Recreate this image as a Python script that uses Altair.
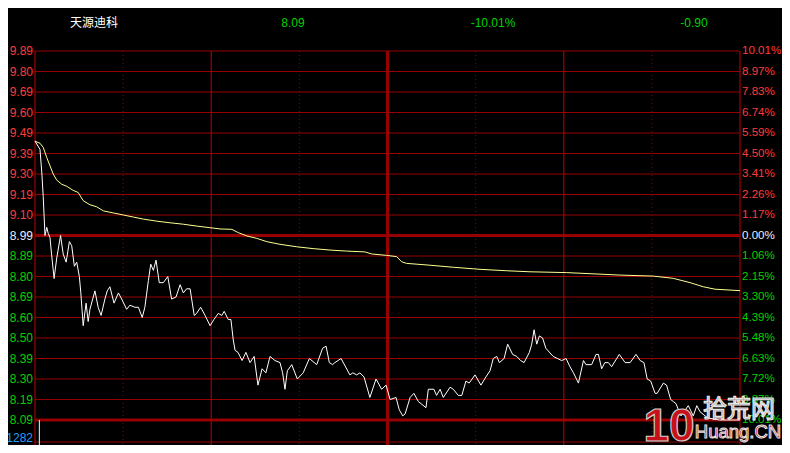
import altair as alt
import pandas as pd

# ---------------- data ----------------
stock_name = "天源迪科"
last_price = "8.09"
change_pct = "-10.01%"
change_abs = "-0.90"

prev_close = 8.99
limit_up = 9.89
limit_down = 8.09

price_labels = ["9.89", "9.80", "9.69", "9.60", "9.49", "9.39", "9.30", "9.19", "9.10", "8.99",
                "8.89", "8.80", "8.69", "8.60", "8.50", "8.39", "8.30", "8.19", "8.09"]
pct_labels = ["10.01%", "8.97%", "7.83%", "6.74%", "5.59%", "4.50%", "3.41%", "2.26%", "1.17%", "0.00%",
              "1.06%", "2.15%", "3.30%", "4.39%", "5.48%", "6.63%", "7.72%", "8.87%", "10.01%"]

# minute of the session (0..240) and last price
minutes = [
    0, 1.7, 2.3, 2.8, 3.4, 4.0, 4.5, 5.1, 5.7, 6.5,
    7.4, 8.7, 9.6, 10.6, 11.7, 12.5, 13.4, 14.2, 15.1, 15.6,
    16.4, 17.4, 18.1, 18.7, 20.4, 21.5, 22.5, 23.8, 24.6, 25.5,
    26.9, 28.4, 29.5, 31.2, 32.3, 34.0, 35.2, 36.5, 37.4, 38.6,
    39.4, 40.3, 41.2, 42.3, 43.7, 45.2, 46.5, 48.0, 49.4, 50.5,
    51.6, 52.8, 54.2, 55.0, 56.4, 57.9, 59.6, 60.9, 62.4, 63.6,
    64.4, 65.8, 66.7, 67.5, 68.1, 69.1, 70.5, 71.8, 73.2, 74.6,
    75.9, 77.3, 78.6, 80.0, 81.7, 83.4, 84.3, 85.1, 85.9, 87.4,
    89.3, 91.3, 93.4, 95.9, 97.9, 99.1, 100.2, 101.3, 102.1, 104.2,
    107.2, 108.2, 109.5, 110.6, 112.0, 114.0, 116.1, 118.0, 119.5, 120.9,
    122.9, 124.0, 125.2, 126.0, 127.7, 129.0, 130.5, 133.1, 133.9, 135.8,
    136.7, 137.9, 139.0, 141.3, 142.4, 144.1, 145.3, 146.7, 147.8, 149.8,
    151.8, 153.5, 154.9, 156.0, 157.2, 158.1, 159.7, 160.9, 162.6, 164.0,
    165.3, 166.5, 168.3, 169.1, 169.9, 170.8, 171.7, 172.8, 173.9, 176.4,
    179.3, 180.8, 182.1, 183.3, 185.0, 186.7, 187.6, 189.5, 191.0, 191.8,
    192.9, 194.0, 195.2, 196.3, 198.9, 200.9, 202.6, 204.6, 206.0, 207.3,
    208.4, 209.6, 211.1, 211.8, 213.9, 215.0, 216.4, 217.3, 218.2, 219.9,
    222.4, 224.1, 225.3, 226.4, 229.0, 233.0, 240.0,
]
prices = [
    9.45, 9.41, 9.30, 9.18, 8.99, 9.03, 9.00, 8.98, 8.89, 8.78,
    8.88, 8.99, 8.90, 8.86, 8.96, 8.94, 8.84, 8.86, 8.79, 8.71,
    8.55, 8.66, 8.57, 8.63, 8.72, 8.64, 8.60, 8.68, 8.72, 8.74,
    8.66, 8.71, 8.68, 8.63, 8.65, 8.64, 8.64, 8.59, 8.64, 8.77,
    8.85, 8.82, 8.87, 8.76, 8.76, 8.79, 8.68, 8.69, 8.75, 8.71,
    8.73, 8.73, 8.60, 8.61, 8.64, 8.60, 8.55, 8.58, 8.61, 8.60,
    8.62, 8.58, 8.58, 8.48, 8.43, 8.42, 8.38, 8.42, 8.37, 8.40,
    8.26, 8.34, 8.32, 8.40, 8.38, 8.37, 8.32, 8.24, 8.33, 8.36,
    8.29, 8.32, 8.39, 8.36, 8.44, 8.45, 8.37, 8.36, 8.37, 8.39,
    8.31, 8.32, 8.31, 8.32, 8.30, 8.20, 8.29, 8.24, 8.26, 8.19,
    8.20, 8.14, 8.11, 8.12, 8.20, 8.22, 8.18, 8.15, 8.24, 8.24,
    8.21, 8.24, 8.20, 8.25, 8.24, 8.21, 8.21, 8.28, 8.27, 8.31,
    8.26, 8.30, 8.33, 8.39, 8.40, 8.37, 8.39, 8.46, 8.41, 8.40,
    8.38, 8.37, 8.42, 8.46, 8.53, 8.46, 8.50, 8.49, 8.44, 8.40,
    8.38, 8.39, 8.35, 8.32, 8.27, 8.38, 8.36, 8.36, 8.41, 8.41,
    8.34, 8.37, 8.37, 8.35, 8.41, 8.37, 8.37, 8.41, 8.38, 8.37,
    8.29, 8.28, 8.22, 8.22, 8.27, 8.26, 8.19, 8.18, 8.17, 8.11,
    8.16, 8.11, 8.16, 8.13, 8.10, 8.09, 8.09,
]

# average price line
avg_minutes = [
    0, 1.7, 2.8, 4.0, 5.1, 6.2, 7.4, 9.1, 10.8, 13.0,
    14.7, 16.4, 18.7, 21.0, 23.3, 26.7, 30.1, 33.5, 36.9, 41.4,
    46.0, 50.5, 55.0, 59.6, 63.0, 67.0, 69.2, 72.1, 75.5, 78.9,
    83.4, 89.1, 94.7, 100.4, 106.1, 112.3, 114.6, 119.7, 123.1, 124.8,
    126.5, 134.5, 142.4, 151.5, 160.6, 168.5, 181.0, 199.1, 210.5, 217.3,
    223.0, 227.5, 231.5, 240.0,
]
avg_prices = [
    9.45, 9.44, 9.42, 9.37, 9.33, 9.29, 9.26, 9.24, 9.23, 9.21,
    9.20, 9.16, 9.14, 9.13, 9.11, 9.10, 9.09, 9.08, 9.07, 9.06,
    9.052, 9.045, 9.036, 9.028, 9.022, 9.020, 9.004, 8.988, 8.976, 8.960,
    8.947, 8.935, 8.926, 8.919, 8.914, 8.910, 8.900, 8.893, 8.887, 8.862,
    8.854, 8.845, 8.835, 8.825, 8.818, 8.813, 8.809, 8.797, 8.792, 8.781,
    8.760, 8.740, 8.728, 8.721,
]

vol_minutes = [1.5]
vol_values = [1709]
vol_tick = 1282
vol_axis_max = 1709

solid_minutes = [0, 60, 120, 180, 240]
dotted_minutes = [30, 90, 150, 210]

# ---------------- layout / style ----------------
W = 705          # plot width
H = 394          # plot height (price panel + visible volume panel)
H_PRICE = 369    # price panel height
VOL_PANEL = 88   # volume panel full height

GRID = "#970000"
RED = "#ff3b3b"
GREEN = "#00d200"
FLAT = "#e6eeff"
YEL = "#ffff90"
VOLC = "#8fe8ff"
BLUE = "#1e9cff"
FONT = "Liberation Sans, Arial, sans-serif"
CJK = "Noto Sans CJK SC, sans-serif"

span = limit_up - limit_down
PY_MIN = limit_down - (H - H_PRICE) * span / H_PRICE
vol_per_px = vol_axis_max / VOL_PANEL
VOL_MIN = vol_axis_max - (H - H_PRICE) * vol_per_px
VOL_MAX = vol_axis_max + H_PRICE * vol_per_px

n = len(price_labels)
grid_prices = [limit_up - i * span / (n - 1) for i in range(n)]
mid = (n - 1) // 2
grid_df = pd.DataFrame({
    "k": list(range(n)),
    "price": grid_prices,
    "plabel": price_labels,
    "pct": pct_labels,
    "tone": ["up" if i < mid else ("flat" if i == mid else "down") for i in range(n)],
})

price_df = pd.DataFrame({"minute": minutes, "price": prices})
avg_df = pd.DataFrame({"minute": avg_minutes, "price": avg_prices})
vol_df = pd.DataFrame({"minute": vol_minutes, "vol": vol_values, "base": [0] * len(vol_values)})
vtick_df = pd.DataFrame({"v": [vol_tick]})

XS = alt.Scale(domain=[0, 240], nice=False, zero=False)
PS = alt.Scale(domain=[PY_MIN, limit_up], nice=False, zero=False)
VS = alt.Scale(domain=[VOL_MIN, VOL_MAX], nice=False, zero=False)
X = alt.X("minute:Q", scale=XS, axis=None)
YP = alt.Y("price:Q", scale=PS, axis=None)
tone_color = alt.Color("tone:N", scale=alt.Scale(domain=["up", "flat", "down"],
                                                  range=[RED, FLAT, GREEN]), legend=None)

layers = []

# horizontal grid
layers.append(alt.Chart(grid_df).mark_rule(color=GRID).encode(
    y=YP, x=alt.value(0), x2=alt.value(W),
    size=alt.condition((alt.datum.k == mid) | (alt.datum.k == n - 1), alt.value(3), alt.value(1)),
))
# vertical grid (solid)
layers.append(alt.Chart(pd.DataFrame({"minute": solid_minutes})).mark_rule(color=GRID).encode(
    x=X, y=alt.value(0), y2=alt.value(H),
    size=alt.condition(alt.datum.minute == 120, alt.value(3), alt.value(1.3)),
))
# vertical grid (dotted)
layers.append(alt.Chart(pd.DataFrame({"minute": dotted_minutes})).mark_rule(
    color=GRID, strokeWidth=1, strokeDash=[1, 3]).encode(
    x=X, y=alt.value(0), y2=alt.value(H),
))
# volume grid line
layers.append(alt.Chart(vtick_df).mark_rule(color=GRID, strokeWidth=1).encode(
    y=alt.Y("v:Q", scale=VS, axis=None), x=alt.value(0), x2=alt.value(W),
))
# volume bars
layers.append(alt.Chart(vol_df).mark_rule(color=VOLC, strokeWidth=1.2, clip=True).encode(
    x=X, y=alt.Y("base:Q", scale=VS, axis=None), y2="vol:Q",
))
# average price line
layers.append(alt.Chart(avg_df).mark_line(color=YEL, strokeWidth=1).encode(x=X, y=YP))
# price line
layers.append(alt.Chart(price_df).mark_line(color="#ffffff", strokeWidth=1).encode(x=X, y=YP))

# left price labels
layers.append(alt.Chart(grid_df).mark_text(align="right", baseline="middle", dx=-2,
                                           font=FONT, fontSize=12).encode(
    x=alt.value(0), y=YP, text="plabel:N", color=tone_color,
))
# right percent labels
layers.append(alt.Chart(grid_df).mark_text(align="left", baseline="middle", dx=2,
                                           font=FONT, fontSize=11.6).encode(
    x=alt.value(W), y=YP, text="pct:N", color=tone_color,
))
# volume label
layers.append(alt.Chart(vtick_df).mark_text(align="right", baseline="middle", dx=-2, dy=-4,
                                            font=FONT, fontSize=12, color=BLUE).encode(
    x=alt.value(0), y=alt.Y("v:Q", scale=VS, axis=None), text="v:N",
))


def label(txt, x, y, **kw):
    return alt.Chart(pd.DataFrame({"t": [txt]})).mark_text(**kw).encode(
        text="t:N", x=alt.value(x), y=alt.value(y))


# header
layers.append(label(stock_name, 35, -28, align="left", baseline="middle",
                    font=CJK, fontSize=12, color="#ffffff"))
layers.append(label(last_price, 258, -28, align="center", baseline="middle",
                    font=FONT, fontSize=12, color=GREEN))
layers.append(label(change_pct, 458, -28, align="center", baseline="middle",
                    font=FONT, fontSize=12, color=GREEN))
layers.append(label(change_abs, 659, -28, align="center", baseline="middle",
                    font=FONT, fontSize=12, color=GREEN))

# watermark
layers.append(label("10", 634, 390, align="center", baseline="alphabetic",
                    font=FONT, fontSize=46, fontWeight="bold",
                    color="#c8101a", stroke="#d0d0d0", strokeWidth=1.2))
layers.append(label("拾荒网", 704, 359, align="center", baseline="middle",
                    font=CJK, fontSize=24, color="#8c8c8c", stroke="#e6e6e6", strokeWidth=1.2))
layers.append(label("Huang.CN", 703, 381, align="center", baseline="middle",
                    font=FONT, fontSize=18.5,
                    color="#b00010", stroke="#e0e0e0", strokeWidth=1))

chart = alt.layer(*layers).resolve_scale(y="independent").properties(
    width=W, height=H,
    autosize=alt.AutoSizeParams(type="none"),
    padding={"left": 27, "top": 43, "right": 42, "bottom": 0},
    background="#000000",
).configure_view(stroke=None)

chart.save("out.html", embed_options={"renderer": "svg", "actions": False})
